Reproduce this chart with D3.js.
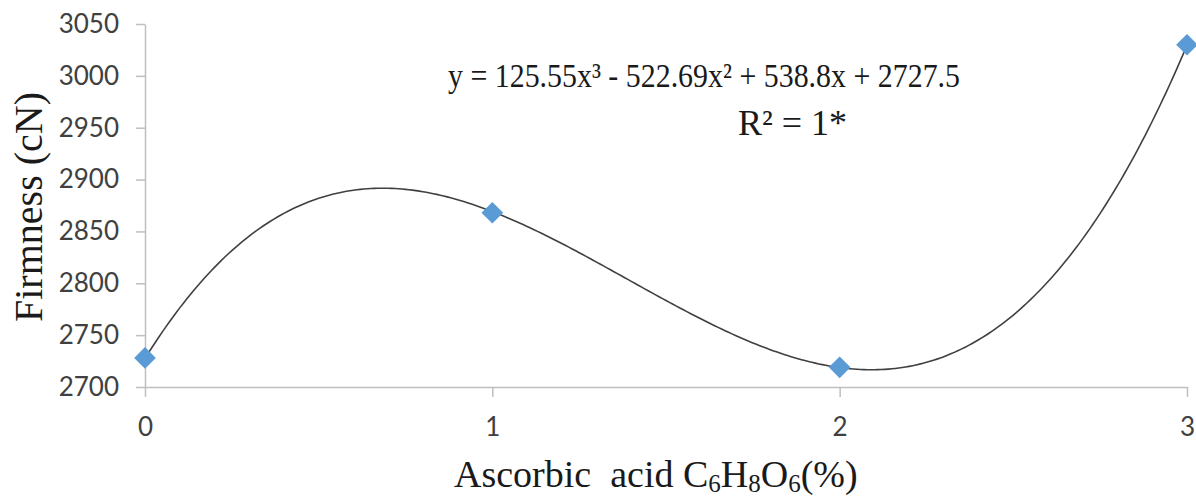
<!DOCTYPE html>
<html>
<head>
<meta charset="utf-8">
<script src="https://cdn.jsdelivr.net/npm/d3@7"></script>
<style>
  body { margin: 0; background: #fff; }
  svg { display: block; }
  .tick text { font-family: Lato, "Open Sans", sans-serif; font-size: 26px; fill: #404040; }
  .serif { font-family: "Liberation Serif", "Times New Roman", serif; fill: #1a1a1a; }
</style>
</head>
<body>
<div id="chart"></div>
<script>
// Data
const xValues = [0, 1, 2, 3];
const firmness = [2728, 2868, 2719, 3030];
const yTicks = [2700, 2750, 2800, 2850, 2900, 2950, 3000, 3050];
const xTicks = [0, 1, 2, 3];
// trendline coefficients, constant term first (as printed on the chart)
const trendCoef = [2727.5, 538.8, -522.69, 125.55];

// Configuration
const W = 1196, H = 499;
const margin = {top: 24, right: 9, bottom: 112, left: 145};
const width = W - margin.left - margin.right;
const height = H - margin.top - margin.bottom;

const svg = d3.select("#chart")
    .append("svg")
    .attr("width", W)
    .attr("height", H);

const g = svg.append("g")
    .attr("transform", `translate(${margin.left},${margin.top})`);

const x = d3.scaleLinear().domain([0, 3]).range([0, width]);
const y = d3.scaleLinear().domain([2700, 3050]).range([height, 0]);

// Y axis
const yAxis = g.append("g")
    .call(d3.axisLeft(y).tickValues(yTicks).tickSize(9).tickSizeOuter(0)
        .tickPadding(17).tickFormat(d3.format("d")));

// X axis
const xAxis = g.append("g")
    .attr("transform", `translate(0,${height})`)
    .call(d3.axisBottom(x).tickValues(xTicks).tickSize(10).tickSizeOuter(0)
        .tickPadding(21).tickFormat(d3.format("d")));

[yAxis, xAxis].forEach(a => {
    a.select(".domain").attr("stroke", "#bfbfbf").attr("stroke-width", 1.5);
    a.selectAll(".tick line").attr("stroke", "#bfbfbf").attr("stroke-width", 1.5);
});

// Trendline (polynomial from the printed coefficients)
const poly = t => trendCoef.reduce((s, c, i) => s + c * Math.pow(t, i), 0);
const trendX = d3.range(0, 3.0001, 0.01);
g.append("path")
    .datum(trendX)
    .attr("fill", "none")
    .attr("stroke", "#404040")
    .attr("stroke-width", 1.6)
    .attr("d", d3.line().x(d => x(d)).y(d => y(poly(d))));

// Markers
g.selectAll(".pt")
    .data(xValues.map((v, i) => ({x: v, y: firmness[i]})))
    .enter()
    .append("path")
    .attr("class", "pt")
    .attr("transform", d => `translate(${x(d.x)},${y(d.y)})`)
    .attr("d", d3.symbol().type(d3.symbolDiamond2).size(300))
    .attr("fill", "#5b9bd5");

// Equation labels
svg.append("text")
    .attr("class", "serif")
    .attr("x", 448).attr("y", 87)
    .style("font-size", "34px")
    .attr("textLength", 512)
    .attr("lengthAdjust", "spacingAndGlyphs")
    .text("y = 125.55x\u00b3  - 522.69x\u00b2  + 538.8x + 2727.5");

svg.append("text")
    .attr("class", "serif")
    .attr("x", 738).attr("y", 135)
    .style("font-size", "36px")
    .text("R\u00b2 = 1*");

// Axis titles
svg.append("text")
    .attr("class", "serif")
    .attr("transform", "translate(42,207) rotate(-90)")
    .attr("text-anchor", "middle")
    .style("font-size", "40px")
    .text("Firmness (cN)");

const xt = svg.append("text")
    .attr("class", "serif")
    .attr("x", 454).attr("y", 487)
    .style("font-size", "38px");
xt.append("tspan").text("Ascorbic\u00a0\u00a0acid C");
xt.append("tspan").attr("dy", 5).style("font-size", "25px").text("6");
xt.append("tspan").attr("dy", -5).text("H");
xt.append("tspan").attr("dy", 5).style("font-size", "25px").text("8");
xt.append("tspan").attr("dy", -5).text("O");
xt.append("tspan").attr("dy", 5).style("font-size", "25px").text("6");
xt.append("tspan").attr("dy", -5).text("(%)");
</script>
</body>
</html>
